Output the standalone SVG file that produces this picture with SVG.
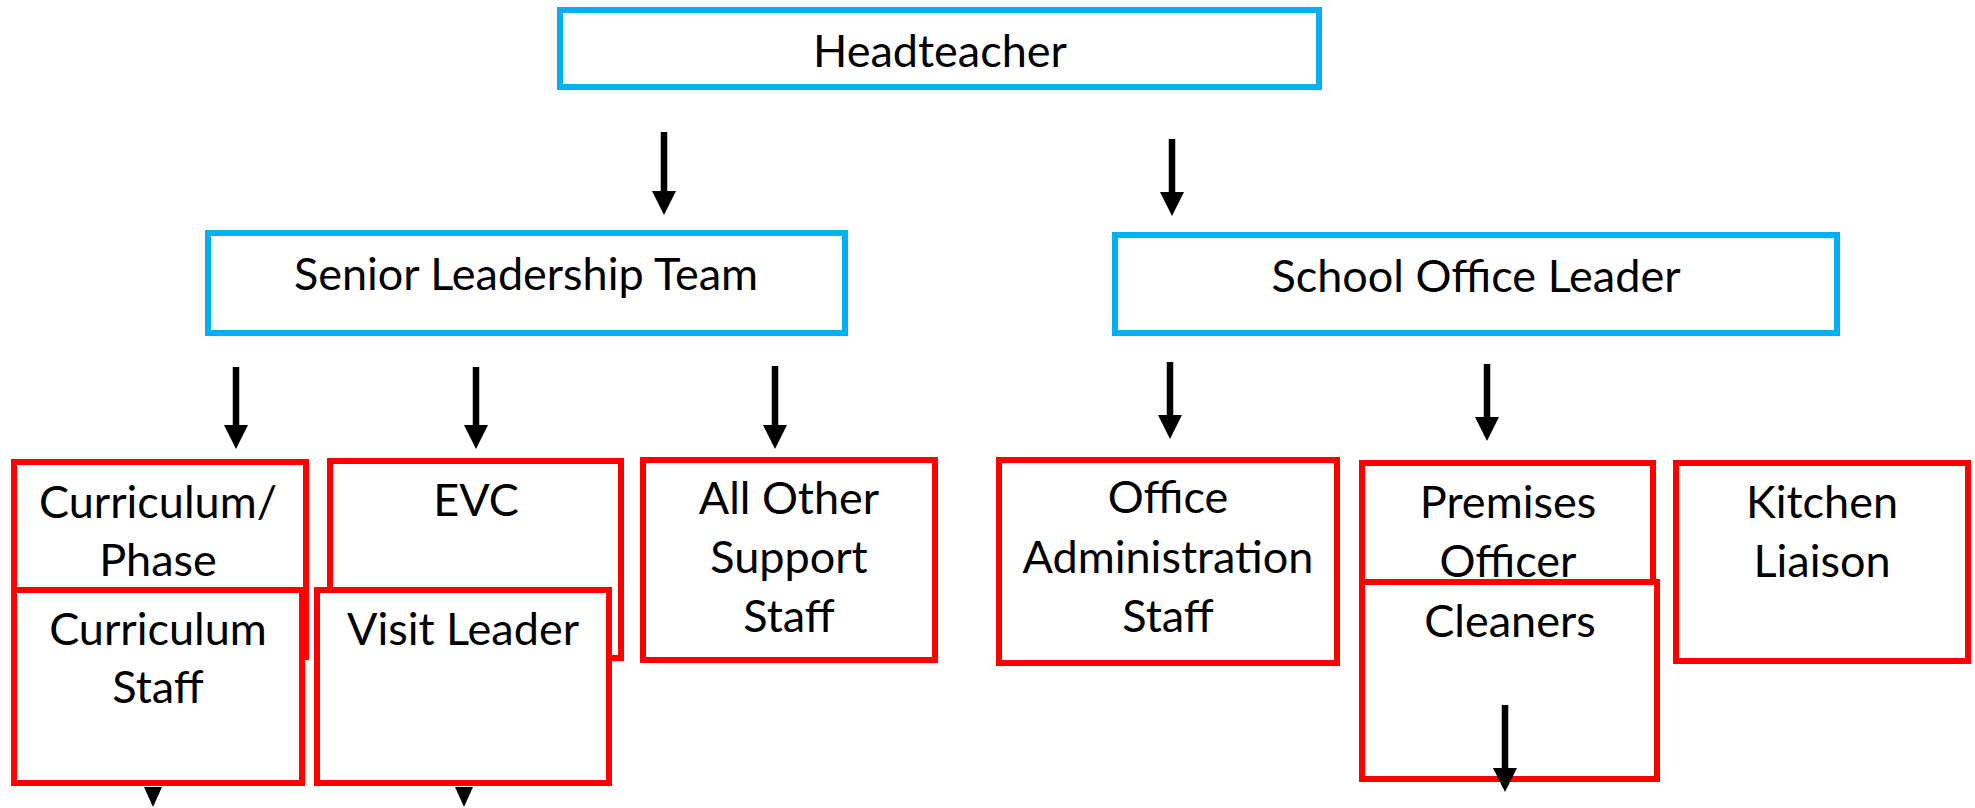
<svg xmlns="http://www.w3.org/2000/svg" width="1975" height="808" viewBox="0 0 1975 808">
<defs>
<marker id="ah" markerUnits="userSpaceOnUse" markerWidth="24" markerHeight="24" viewBox="0 0 24 24" refX="0" refY="12" orient="auto">
<path d="M0,0 L24,12 L0,24 Z" fill="#000"/>
</marker>
<style>
.blue{fill:#fff;stroke:#00B0F0;stroke-width:6}
.red{fill:#fff;stroke:#FF0000;stroke-width:6}
text{font-family:Lato,"Liberation Sans",sans-serif;font-size:45px;fill:#000;text-anchor:middle}
.c line{stroke:#000;stroke-width:6.5;marker-end:url(#ah)}
</style>
</defs>
<rect width="1975" height="808" fill="#fff"/>
<g id="headteacher"><rect class="blue" x="560" y="10" width="759" height="77"/><text x="940" y="67">Headteacher</text></g>
<g id="slt"><rect class="blue" x="208" y="233" width="637" height="100"/><text x="526" y="290">Senior Leadership Team</text></g>
<g id="sol"><rect class="blue" x="1115" y="235" width="722" height="98"/><text x="1476" y="292">School Office Leader</text></g>
<g id="curriculum-phase"><rect class="red" x="14" y="462" width="292" height="195"/><text x="158" y="518">Curriculum/</text><text x="158" y="576">Phase</text></g>
<g id="curriculum-staff"><rect class="red" x="14" y="590" width="288" height="193"/><text x="158" y="645">Curriculum</text><text x="158" y="703">Staff</text></g>
<g id="evc"><rect class="red" x="330" y="461" width="291" height="197"/><text x="476" y="516">EVC</text></g>
<g id="visit-leader"><rect class="red" x="317" y="590" width="292" height="193"/><text x="463" y="645">Visit Leader</text></g>
<g id="support-staff"><rect class="red" x="643" y="460" width="292" height="200"/><text x="789" y="514">All Other</text><text x="789" y="573">Support</text><text x="789" y="632">Staff</text></g>
<g id="office-admin"><rect class="red" x="999" y="460" width="338" height="203"/><text x="1168" y="513">Office</text><text x="1168" y="573">Administration</text><text x="1168" y="632">Staff</text></g>
<g id="premises"><rect class="red" x="1362" y="463" width="291" height="199"/><text x="1508" y="518">Premises</text><text x="1508" y="577">Officer</text></g>
<g id="cleaners"><rect class="red" x="1362" y="582" width="295" height="197"/><text x="1510" y="637">Cleaners</text></g>
<g id="kitchen"><rect class="red" x="1676" y="463" width="292" height="198"/><text x="1822" y="518">Kitchen</text><text x="1822" y="577">Liaison</text></g>
<g id="connectors" class="c">
<line x1="664" y1="132" x2="664" y2="191"/>
<line x1="1172" y1="139" x2="1172" y2="192"/>
<line x1="236" y1="367" x2="236" y2="425"/>
<line x1="476" y1="367" x2="476" y2="425"/>
<line x1="775" y1="366" x2="775" y2="425"/>
<line x1="1170" y1="362" x2="1170" y2="415"/>
<line x1="1487" y1="364" x2="1487" y2="417"/>
<line x1="1505" y1="705" x2="1505" y2="768"/>
<path d="M144,787 L162,787 L153,807 Z" fill="#000"/>
<path d="M455,787 L473,787 L464,807 Z" fill="#000"/>
</g>
</svg>
